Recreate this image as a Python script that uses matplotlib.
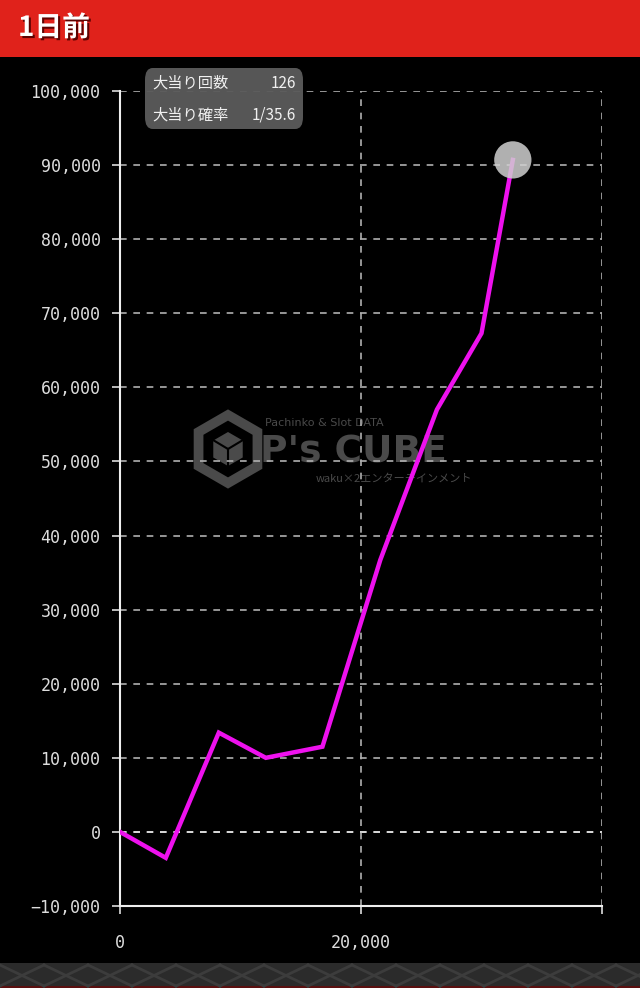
import numpy as np
import matplotlib
matplotlib.use('Agg')
from matplotlib import pyplot as plt
from matplotlib.patches import Rectangle, FancyBboxPatch, RegularPolygon
import matplotlib.patheffects as pe
from matplotlib.ticker import FuncFormatter

# data
games = [0, 3800, 8200, 12100, 16800, 21600, 26300, 30000, 32600]
diff = [0, -3500, 13400, 10000, 11500, 36700, 57000, 67300, 90700]
y_ticks = [-10000, 0, 10000, 20000, 30000, 40000, 50000, 60000, 70000, 80000, 90000, 100000]
x_ticks = [0, 20000, 40000]
title = '1日前'
info_labels = ['大当り回数', '大当り確率']
info_values = ['126', '1/35.6']

jp = ['Noto Sans CJK JP', 'DejaVu Sans']

fig = plt.figure(figsize=(6.4, 9.88), dpi=100)
fig.patch.set_facecolor('black')

# red header band
fig.patches.append(Rectangle((0, 1 - 57 / 988), 1, 57 / 988, transform=fig.transFigure,
                             facecolor='#e0221b', edgecolor='none'))
fig.text(18 / 640, 1 - 28 / 988, title, color='white', fontsize=20, fontweight='bold',
         family=jp, va='center', ha='left',
         path_effects=[pe.withSimplePatchShadow(offset=(1.5, -1.5), shadow_rgbFace='#500000', alpha=0.9)])

# dark footer band
fig.patches.append(Rectangle((0, 0), 1, 25 / 988, transform=fig.transFigure,
                             facecolor='#2b2b2b', edgecolor='none'))
for k in range(0, 640, 44):
    fig.lines.append(plt.Line2D([k / 640, (k + 44) / 640], [2 / 988, 23 / 988],
                                transform=fig.transFigure, color='#3c3c3c', lw=2))
    fig.lines.append(plt.Line2D([k / 640, (k + 44) / 640], [23 / 988, 2 / 988],
                                transform=fig.transFigure, color='#3c3c3c', lw=2))
fig.patches.append(Rectangle((0, 0), 1, 2 / 988, transform=fig.transFigure,
                             facecolor='#5a1010', edgecolor='none'))

# watermark layer in pixel coordinates, under the chart
wm = fig.add_axes([0, 0, 1, 1], zorder=1)
wm.set_xlim(0, 640)
wm.set_ylim(988, 0)
wm.axis('off')
wm.add_patch(RegularPolygon((228, 449), 6, radius=34, orientation=0,
                            facecolor='none', edgecolor='#4a4a4a', lw=7))
wm.add_patch(RegularPolygon((228, 449), 6, radius=17, orientation=0,
                            facecolor='#4a4a4a', edgecolor='none'))
wm.plot([228, 228], [449, 466], color='black', lw=1.5)
wm.plot([228, 213], [449, 440], color='black', lw=1.5)
wm.plot([228, 243], [449, 440], color='black', lw=1.5)
wm.text(265, 423, 'Pachinko & Slot DATA', color='#4a4a4a', fontsize=8, ha='left', va='center')
wm.text(260, 452, "P's CUBE", color='#4a4a4a', fontsize=27, fontweight='bold', ha='left', va='center')
wm.text(316, 479, 'waku×2エンターテインメント', color='#4a4a4a', fontsize=8, ha='left', va='center', family=jp)

ax = fig.add_axes([120 / 640, 82 / 988, 482 / 640, 815 / 988], zorder=2)
ax.patch.set_visible(False)
ax.set_xlim(0, 40000)
ax.set_ylim(-10000, 100000)
ax.set_yticks(y_ticks)
ax.set_xticks(x_ticks)

fmt = FuncFormatter(lambda v, p: f'{int(v):,}'.replace('-', '\u2212'))
ax.yaxis.set_major_formatter(fmt)
ax.xaxis.set_major_formatter(FuncFormatter(lambda v, p: '' if v == 40000 else f'{int(v):,}'))

for lab in ax.get_xticklabels() + ax.get_yticklabels():
    lab.set_family('DejaVu Sans Mono')
ax.tick_params(colors='#dddddd', labelsize=12, length=6, width=1.2)
ax.tick_params(axis='x', pad=14)
ax.tick_params(axis='y', pad=8)

for s in ['top', 'right']:
    ax.spines[s].set_visible(False)
for s in ['left', 'bottom']:
    ax.spines[s].set_color('#eeeeee')
    ax.spines[s].set_linewidth(1.5)

# dashed grid
for yv in y_ticks[1:]:
    ax.axhline(yv, color='#ffffff' if yv == 0 else '#b0b0b0', lw=1.2, ls=(0, (4, 4)), zorder=1)
for xv in x_ticks[1:]:
    ax.axvline(xv, color='#b0b0b0', lw=1.2, ls=(0, (4, 4)), zorder=1)

ax.plot(games, diff, color='#ee11ee', lw=3.2, solid_joinstyle='miter', zorder=3)
ax.scatter([games[-1]], [diff[-1]], s=720, color='#d0d0d0', alpha=0.85, zorder=4, edgecolors='none')

# info box
box = FancyBboxPatch((145 / 640, 1 - 129 / 988), 158 / 640, 61 / 988,
                     boxstyle='round,pad=0,rounding_size=0.012', transform=fig.transFigure,
                     facecolor='#5b5b5b', edgecolor='none', alpha=0.95, zorder=5)
fig.patches.append(box)
for i, (lab, val) in enumerate(zip(info_labels, info_values)):
    yy = 1 - (83 + 32 * i) / 988
    fig.text(152 / 640, yy, lab, color='#f0f0f0', fontsize=11, family=jp, va='center', ha='left', zorder=6)
    fig.text(296 / 640, yy, val, color='#f0f0f0', fontsize=11, family=jp, va='center', ha='right', zorder=6)

plt.savefig('out.png', dpi=100, facecolor='black')
